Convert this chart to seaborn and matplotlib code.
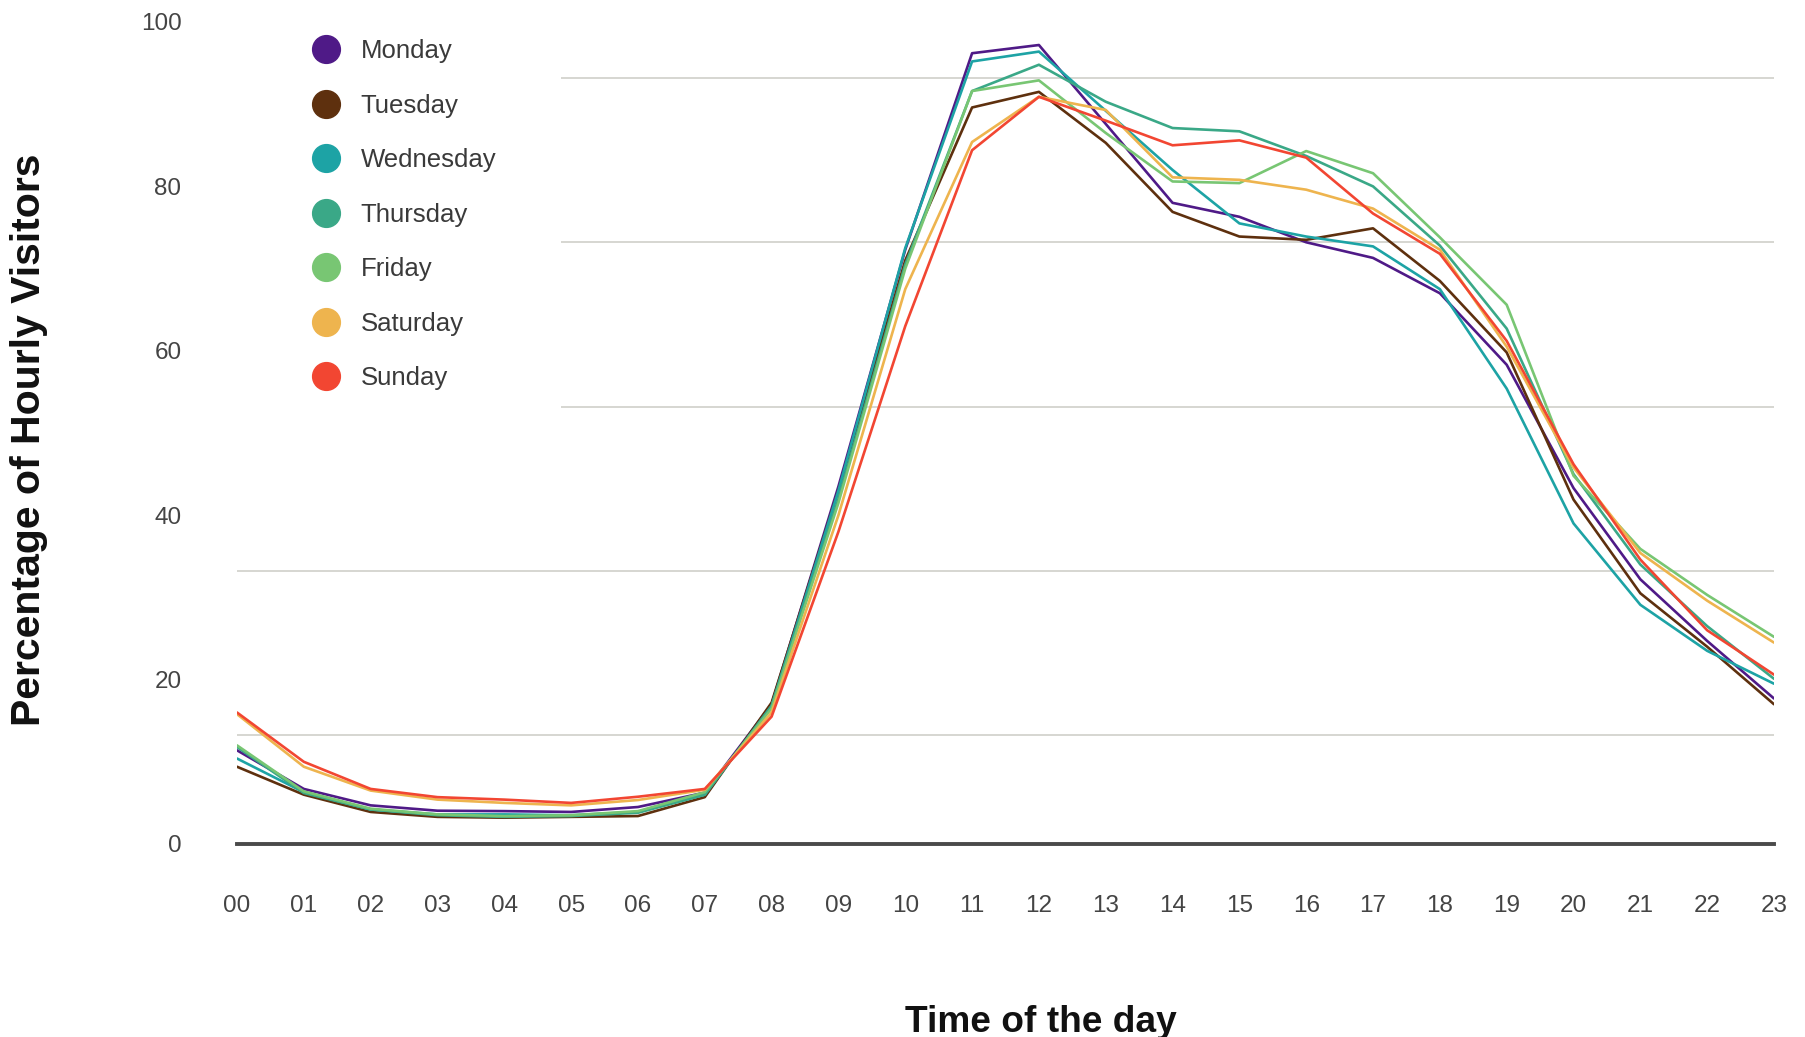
import numpy as np
import pandas as pd
import matplotlib
matplotlib.use("Agg")
import matplotlib.pyplot as plt
import seaborn as sns
from matplotlib.lines import Line2D

# ---------------- data ----------------
hours = list(range(24))
hour_labels = [f"{h:02d}" for h in hours]
days = ["Monday", "Tuesday", "Wednesday", "Thursday", "Friday", "Saturday", "Sunday"]

monday    = [11.4, 6.7, 4.7, 4.05, 4.0, 3.9, 4.5, 6.25, 17.0, 43.5, 72.3, 96.2, 97.2, 87.6, 78.0, 76.3, 73.2, 71.3, 67.0, 58.3, 43.3, 32.2, 24.7, 17.7]
tuesday   = [9.4, 6.0, 3.9, 3.3, 3.2, 3.3, 3.4, 5.7, 17.2, 43.0, 71.0, 89.6, 91.5, 85.3, 76.9, 73.9, 73.5, 74.9, 68.5, 59.8, 41.9, 30.5, 24.0, 17.0]
wednesday = [10.4, 6.3, 4.2, 3.6, 3.6, 3.5, 3.9, 6.0, 16.8, 43.0, 72.5, 95.2, 96.4, 89.2, 82.0, 75.5, 73.9, 72.7, 67.5, 55.4, 39.0, 29.1, 23.5, 19.5]
thursday  = [11.8, 6.2, 4.2, 3.5, 3.3, 3.4, 3.8, 6.0, 16.8, 42.0, 70.5, 91.6, 94.8, 90.3, 87.1, 86.7, 83.7, 80.0, 72.8, 62.7, 45.0, 34.0, 26.5, 20.1]
friday    = [12.0, 6.4, 4.3, 3.6, 3.4, 3.5, 4.0, 6.3, 16.5, 41.5, 70.0, 91.6, 92.9, 86.5, 80.6, 80.4, 84.3, 81.6, 73.8, 65.6, 44.8, 35.9, 30.3, 25.2]
saturday  = [15.8, 9.4, 6.5, 5.4, 5.0, 4.7, 5.35, 6.6, 16.0, 40.0, 67.5, 85.4, 90.9, 89.3, 81.1, 80.8, 79.6, 77.3, 72.3, 60.5, 45.8, 35.4, 29.6, 24.5]
sunday    = [16.0, 10.0, 6.7, 5.7, 5.4, 5.0, 5.75, 6.7, 15.5, 38.0, 63.0, 84.4, 90.9, 88.0, 85.0, 85.6, 83.5, 76.7, 71.8, 61.2, 46.2, 34.6, 26.0, 20.6]

series = [monday, tuesday, wednesday, thursday, friday, saturday, sunday]
colors = ["#4f1a87", "#5e300e", "#1da3a5", "#3aa887", "#78c673", "#eeb44e", "#f24632"]

y_ticks = [0, 20, 40, 60, 80, 100]
grid_levels = [13.2, 33.2, 53.2, 73.2, 93.2]

df = pd.DataFrame({
    "hour": np.tile(hours, len(days)),
    "value": np.concatenate(series),
    "day": np.repeat(days, len(hours)),
})

# ---------------- style ----------------
sns.set_theme(style="white")
plt.rcParams["font.family"] = ["Liberation Sans", "DejaVu Sans"]

fig = plt.figure(figsize=(18.05, 10.37), dpi=100)
ax = fig.add_axes([237 / 1805, 1 - 844 / 1037, 1537 / 1805, 822 / 1037])

for g in grid_levels:
    ax.axhline(g, color="#d3d3ce", lw=1.3, zorder=0)

palette = dict(zip(days, colors))
sns.lineplot(data=df, x="hour", y="value", hue="day", hue_order=days,
             palette=palette, lw=1.9, legend=False, ax=ax, zorder=3)

ax.set_xlim(0, 23)
ax.set_ylim(0, 100)
ax.set_xticks(hours)
ax.set_xticklabels(hour_labels)
ax.set_yticks(y_ticks)
ax.set_yticklabels([str(t) for t in y_ticks])
ax.tick_params(axis="x", length=0, pad=37, labelsize=17.5, labelcolor="#444444")
ax.tick_params(axis="y", length=0, pad=40, labelsize=17.5, labelcolor="#444444")
ax.grid(False)

for s in ["top", "right", "left"]:
    ax.spines[s].set_visible(False)
ax.spines["bottom"].set_color("#4a4a4a")
ax.spines["bottom"].set_linewidth(2.8)
ax.spines["bottom"].set_zorder(4)

ax.set_xlabel("Time of the day", fontsize=26.7, fontweight="bold", color="#111111")
ax.xaxis.set_label_coords(0.523, -0.196)
ax.set_ylabel("")
fig.text(29 / 1805, 1 - 440 / 1037, "Percentage of Hourly Visitors", rotation=90,
         ha="center", va="center", fontsize=29.5, fontweight="bold", color="#111111")

handles = [Line2D([0], [0], marker="o", linestyle="none", markersize=20,
                  markerfacecolor=c, markeredgecolor=c) for c in colors]
leg = fig.legend(handles, days, loc="center left",
                 bbox_to_anchor=(0.1305, 1 - 214.7 / 1037),
                 bbox_transform=fig.transFigure,
                 frameon=True, facecolor="white", edgecolor="none", framealpha=1,
                 fancybox=False, fontsize=18.5, borderpad=2.5, labelspacing=1.19,
                 handlelength=2.05, handletextpad=0.32, borderaxespad=0)
for t in leg.get_texts():
    t.set_color("#3a3a3a")

fig.savefig("out.png", dpi=100, facecolor="white")
